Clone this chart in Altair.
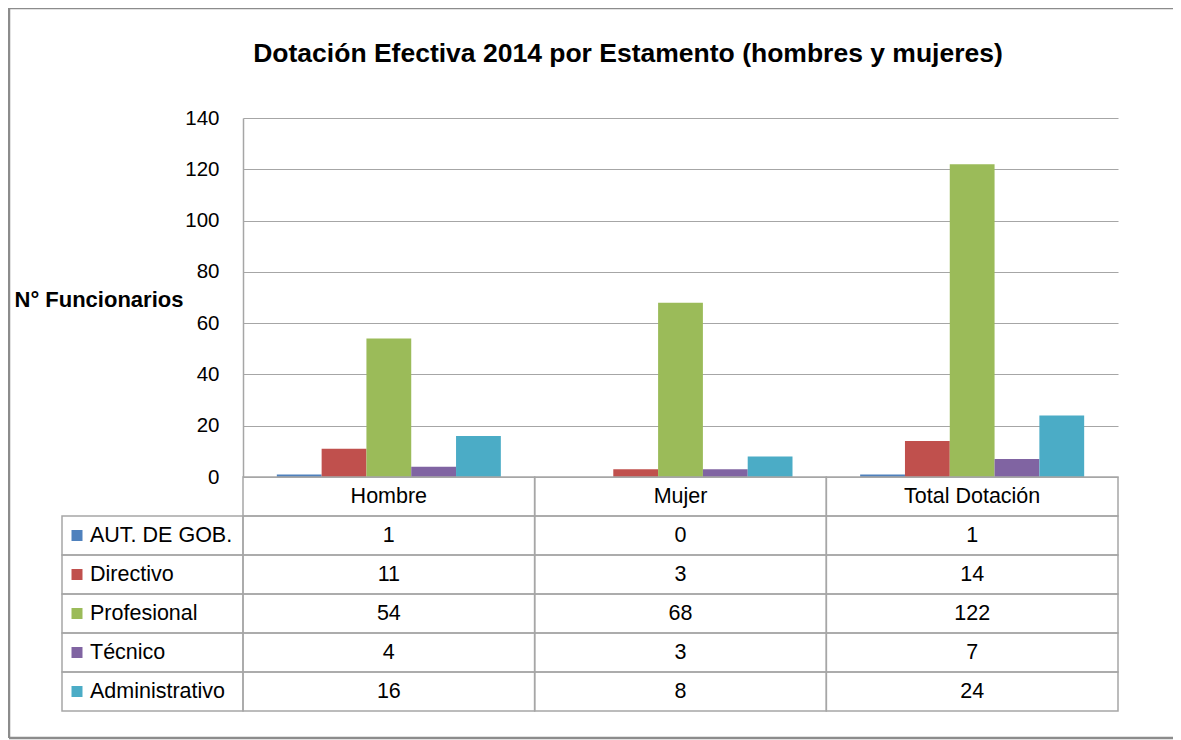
import altair as alt
import pandas as pd

# ---------------- data ----------------
categories = ["Hombre", "Mujer", "Total Dotación"]
series_names = ["AUT. DE GOB.", "Directivo", "Profesional", "Técnico", "Administrativo"]
aut_gob = [1, 0, 1]
directivo = [11, 3, 14]
profesional = [54, 68, 122]
tecnico = [4, 3, 7]
administrativo = [16, 8, 24]
series_colors = ["#4F81BD", "#C0504D", "#9BBB59", "#8064A2", "#4BACC6"]
y_ticks = [0, 20, 40, 60, 80, 100, 120, 140]

title_text = "Dotación Efectiva 2014 por Estamento (hombres y mujeres)"
y_title = "N° Funcionarios"

# ---------------- layout constants ----------------
FONT = "Liberation Sans, Arial, sans-serif"
W, H = 875, 359
ROW_H = 39
N_ROWS = len(series_names) + 1
TABLE_H = ROW_H * N_ROWS
BAND = W / len(categories)
LABEL_W = 181
GRID = "#a6a6a6"
TXT = 21.5

values = [aut_gob, directivo, profesional, tecnico, administrativo]
rows = []
for si, (s, vals) in enumerate(zip(series_names, values)):
    for ci, (c, v) in enumerate(zip(categories, vals)):
        rows.append({"series": s, "category": c, "value": v, "col": ci, "row": si + 1})
df = pd.DataFrame(rows)

lf = LABEL_W / BAND
cells = []
for ci, c in enumerate(categories):
    cells.append({"x0": ci, "x1": ci + 1, "r0": 0, "r1": 1, "xc": ci + 0.5, "rc": 0.5, "text": c})
for r in rows:
    cells.append({"x0": r["col"], "x1": r["col"] + 1, "r0": r["row"], "r1": r["row"] + 1,
                  "xc": r["col"] + 0.5, "rc": r["row"] + 0.5, "text": str(r["value"])})
cells_df = pd.DataFrame(cells)

label_rows = []
for si, s in enumerate(series_names):
    label_rows.append({"series": s, "x0": -lf, "x1": 0, "r0": si + 1, "r1": si + 2,
                       "rc": si + 1.5, "xs": -lf + 15 / BAND, "xt": -lf + 28 / BAND})
labels_df = pd.DataFrame(label_rows)

color_scale = alt.Scale(domain=series_names, range=series_colors)
tx = alt.Scale(domain=[0, len(categories)], range=[0, W], nice=False, zero=False)
ty = alt.Scale(domain=[0, N_ROWS], range=[H, H + TABLE_H], nice=False, zero=False)

bars = alt.Chart(df).mark_bar().encode(
    x=alt.X("category:N", sort=categories, axis=None,
            scale=alt.Scale(paddingInner=0, paddingOuter=0)),
    xOffset=alt.XOffset("series:N", sort=series_names,
                        scale=alt.Scale(paddingInner=0, paddingOuter=0.755)),
    y=alt.Y("value:Q", scale=alt.Scale(domain=[0, 140], nice=False),
            axis=alt.Axis(values=y_ticks, grid=True, gridColor=GRID, gridWidth=1.2,
                          domain=True, domainColor=GRID, domainWidth=1.5, ticks=False,
                          labelFont=FONT, labelFontSize=20.5, labelColor="#000",
                          labelPadding=24,
                          title=y_title, titleAngle=0, titleAlign="left",
                          titleBaseline="middle", titleX=-229, titleY=181,
                          titleFont=FONT, titleFontSize=22, titleFontWeight="bold",
                          titleColor="#000")),
    color=alt.Color("series:N", scale=color_scale, legend=None),
)

cell_rects = alt.Chart(cells_df).mark_rect(fill="white", fillOpacity=0, stroke=GRID, strokeWidth=1.5).encode(
    x=alt.X("x0:Q", scale=tx, axis=None), x2="x1:Q",
    y=alt.Y("r0:Q", scale=ty, axis=None), y2="r1:Q",
)
cell_text = alt.Chart(cells_df).mark_text(font=FONT, fontSize=TXT, color="#000", baseline="middle").encode(
    x=alt.X("xc:Q", scale=tx, axis=None),
    y=alt.Y("rc:Q", scale=ty, axis=None),
    text="text:N",
)
label_rects = alt.Chart(labels_df).mark_rect(fill="white", fillOpacity=0, stroke=GRID, strokeWidth=1.5).encode(
    x=alt.X("x0:Q", scale=tx, axis=None), x2="x1:Q",
    y=alt.Y("r0:Q", scale=ty, axis=None), y2="r1:Q",
)
label_text = alt.Chart(labels_df).mark_text(font=FONT, fontSize=TXT, color="#000", baseline="middle", align="left").encode(
    x=alt.X("xt:Q", scale=tx, axis=None),
    y=alt.Y("rc:Q", scale=ty, axis=None),
    text="series:N",
)
swatches = alt.Chart(labels_df).mark_square(size=121, opacity=1, filled=True).encode(
    x=alt.X("xs:Q", scale=tx, axis=None),
    y=alt.Y("rc:Q", scale=ty, axis=None),
    color=alt.Color("series:N", scale=color_scale, legend=None),
)
# outer chart-area border (left, top, bottom edges) and chart title (decoration, in pixels)
one = pd.DataFrame({"k": [0]})
border_style = dict(color="#8c8c8c", strokeWidth=2.5)
border_left = alt.Chart(one).mark_rule(**border_style).encode(
    x=alt.value(-234), y=alt.value(-110), y2=alt.value(620))
border_top = alt.Chart(one).mark_rule(**border_style).encode(
    x=alt.value(-234), x2=alt.value(960), y=alt.value(-110))
border_bottom = alt.Chart(one).mark_rule(**border_style).encode(
    x=alt.value(-234), x2=alt.value(960), y=alt.value(620))
title = alt.Chart(pd.DataFrame({"t": [title_text]})).mark_text(
    font=FONT, fontSize=26.5, fontWeight="bold", color="#000", align="center", baseline="alphabetic"
).encode(x=alt.value(385), y=alt.value(-56), text="t:N")

chart = alt.layer(border_left, border_top, border_bottom, bars, cell_rects, label_rects,
                  swatches, cell_text, label_text, title).resolve_scale(
    x="independent", y="independent", color="shared"
).properties(
    width=W, height=H,
    autosize=alt.AutoSizeParams(type="none"),
    padding={"left": 235, "top": 110, "right": 55, "bottom": 263},
    background="white",
).configure_view(strokeWidth=0)

chart.save("out.html", embed_options={"renderer": "svg", "actions": False})
